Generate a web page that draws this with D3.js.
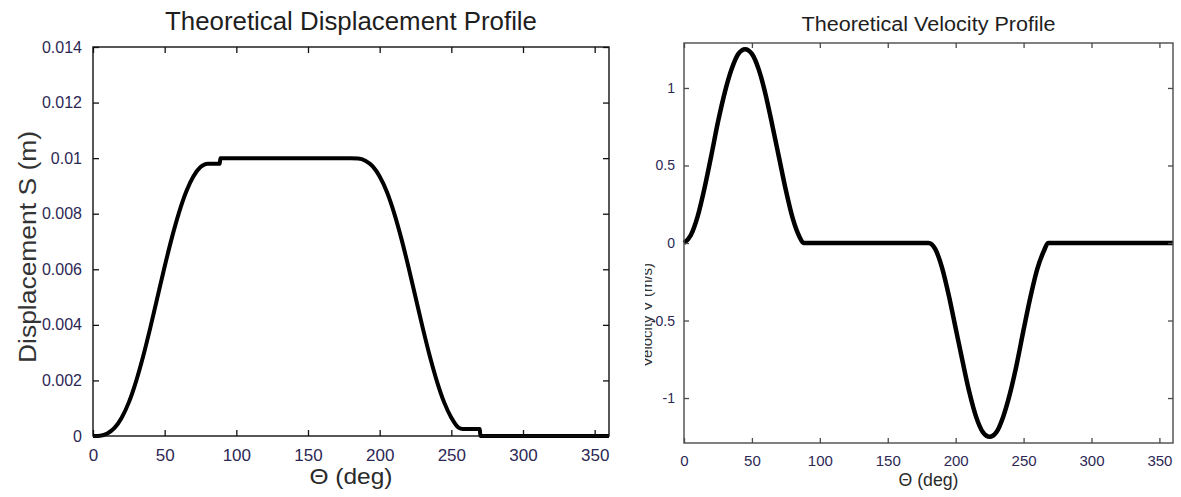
<!DOCTYPE html>
<html>
<head>
<meta charset="utf-8">
<script src="https://cdn.jsdelivr.net/npm/d3@7"></script>
<style>
  html, body { margin: 0; padding: 0; background: #fff; }
  svg { display: block; font-family: "Liberation Sans", Arial, sans-serif; }
</style>
</head>
<body>
<svg id="chart" width="1181" height="497"></svg>
<script>
// ---------- data ----------
const dispTheta = [0, 5, 10, 15, 20, 25, 30, 35, 40, 45, 50, 55, 60, 65, 70, 75, 78, 80, 85, 88.5, 88.8, 90, 100, 120, 140, 160, 180, 185, 190, 195, 200, 205, 210, 215, 220, 225, 230, 235, 240, 245, 250, 255, 258, 262, 266, 269.9, 270.2, 280, 300, 320, 340, 360];
const dispValues = [0, 0.00001, 0.00009, 0.00029, 0.00066, 0.00121, 0.00196, 0.00287, 0.0039, 0.005, 0.0061, 0.00713, 0.00804, 0.00879, 0.00934, 0.00968, 0.00978, 0.0098, 0.0098, 0.0098, 0.0100, 0.0100, 0.0100, 0.0100, 0.0100, 0.0100, 0.0100, 0.00999, 0.00991, 0.00971, 0.00934, 0.00879, 0.00804, 0.00713, 0.0061, 0.005, 0.0039, 0.00287, 0.00196, 0.00121, 0.00066, 0.0003, 0.00025, 0.00025, 0.00025, 0.00025, 0, 0, 0, 0, 0, 0];

const velTheta = [0, 5, 10, 15, 20, 25, 30, 35, 40, 45, 50, 55, 60, 65, 70, 75, 80, 85, 88, 90, 110, 130, 150, 170, 180, 185, 190, 195, 200, 205, 210, 215, 220, 225, 230, 235, 240, 245, 250, 255, 260, 265, 268, 270, 290, 310, 330, 360];
const velValues = [0, 0.05, 0.17, 0.35, 0.56, 0.78, 0.97, 1.12, 1.22, 1.25, 1.22, 1.12, 0.96, 0.76, 0.55, 0.34, 0.16, 0.04, 0, 0, 0, 0, 0, 0, 0, -0.04, -0.16, -0.34, -0.55, -0.76, -0.96, -1.12, -1.22, -1.25, -1.22, -1.12, -0.97, -0.78, -0.56, -0.35, -0.17, -0.05, 0, 0, 0, 0, 0, 0];

const xTicks = [0, 50, 100, 150, 200, 250, 300, 350];
const dispTicks = [0, 0.002, 0.004, 0.006, 0.008, 0.01, 0.012, 0.014];
const dispTickLabels = ["0", "0.002", "0.004", "0.006", "0.008", "0.01", "0.012", "0.014"];
const velTicks = [-1, -0.5, 0, 0.5, 1];
const velTickLabels = ["-1", "-0.5", "0", "0.5", "1"];

const titles = ["Theoretical Displacement Profile", "Theoretical Velocity Profile"];
const xLabel = "\u0398 (deg)";
const yLabels = ["Displacement S (m)", "Velocity V (m/s)"];

// ---------- drawing ----------
const svg = d3.select("#chart");
const tickColor = "#2c2854";

function panel(opts) {
  const x = d3.scaleLinear().domain([0, 360]).range([opts.left, opts.right]);
  const y = d3.scaleLinear().domain(opts.yDomain).range([opts.bottom, opts.top]);
  const g = svg.append("g");

  // data line
  const line = d3.line()
    .x((d, i) => x(opts.xs[i]))
    .y((d) => y(d))
    .curve(d3.curveMonotoneX);
  g.append("path")
    .attr("d", line(opts.ys))
    .attr("fill", "none")
    .attr("stroke", "#000")
    .attr("stroke-width", opts.lineWidth)
    .attr("stroke-linejoin", "round");

  // inward ticks on all sides
  const tl = opts.tickLen;
  const axB = d3.axisBottom(x).tickValues(xTicks).tickSizeInner(-tl).tickSizeOuter(0).tickFormat(d3.format("d")).tickPadding(tl + 7);
  const axT = d3.axisTop(x).tickValues(xTicks).tickSizeInner(-tl).tickSizeOuter(0).tickFormat("");
  const axL = d3.axisLeft(y).tickValues(opts.yTicks).tickSizeInner(-tl).tickSizeOuter(0).tickFormat((d, i) => opts.yTickLabels[i]).tickPadding(tl + opts.yPad);
  const axR = d3.axisRight(y).tickValues(opts.yTicks).tickSizeInner(-tl).tickSizeOuter(0).tickFormat("");

  const gb = g.append("g").attr("transform", `translate(0,${opts.bottom})`).call(axB);
  const gt = g.append("g").attr("transform", `translate(0,${opts.top})`).call(axT);
  const gl = g.append("g").attr("transform", `translate(${opts.left},0)`).call(axL);
  const gr = g.append("g").attr("transform", `translate(${opts.right},0)`).call(axR);
  [gb, gt, gl, gr].forEach(a => {
    a.select(".domain").remove();
    a.selectAll(".tick line").attr("stroke", opts.boxColor).attr("stroke-width", 1.3);
  });
  gb.selectAll(".tick text").attr("font-size", opts.xTickSize).attr("fill", tickColor).attr("font-family", "Liberation Sans, Arial, sans-serif");
  gl.selectAll(".tick text").attr("font-size", opts.yTickSize).attr("fill", tickColor).attr("font-family", "Liberation Sans, Arial, sans-serif");

  // box
  g.append("rect")
    .attr("x", opts.left).attr("y", opts.top)
    .attr("width", opts.right - opts.left).attr("height", opts.bottom - opts.top)
    .attr("fill", "none").attr("stroke", opts.boxColor).attr("stroke-width", opts.boxWidth);

  // title
  g.append("text")
    .attr("x", (opts.left + opts.right) / 2).attr("y", opts.titleY)
    .attr("text-anchor", "middle").attr("font-size", opts.titleSize)
    .attr("textLength", opts.titleLen).attr("lengthAdjust", "spacingAndGlyphs")
    .attr("fill", "#1e1e1e").text(opts.title);

  // x label
  g.append("text")
    .attr("x", (opts.left + opts.right) / 2).attr("y", opts.xLabelY)
    .attr("text-anchor", "middle").attr("font-size", opts.xLabelSize)
    .attr("textLength", opts.xLabelLen).attr("lengthAdjust", "spacingAndGlyphs")
    .attr("fill", "#2a2a2a").text(xLabel);

  return { x, y, g };
}

const p1 = panel({
  left: 93, right: 609, top: 47, bottom: 436,
  yDomain: [0, 0.014], xs: dispTheta, ys: dispValues,
  yTicks: dispTicks, yTickLabels: dispTickLabels,
  lineWidth: 4, tickLen: 6, yPad: 5,
  boxColor: "#111", boxWidth: 1.4,
  xTickSize: 17, yTickSize: 16,
  title: titles[0], titleY: 30, titleSize: 25, titleLen: 372,
  xLabelY: 484, xLabelSize: 22, xLabelLen: 83
});

// left y label
svg.append("text")
  .attr("transform", "translate(36,247) rotate(-90)")
  .attr("text-anchor", "middle").attr("font-size", 23)
  .attr("textLength", 232).attr("lengthAdjust", "spacingAndGlyphs")
  .attr("fill", "#333").text(yLabels[0]);

const p2 = panel({
  left: 684, right: 1173, top: 43, bottom: 443,
  yDomain: [-1.29, 1.29], xs: velTheta, ys: velValues,
  yTicks: velTicks, yTickLabels: velTickLabels,
  lineWidth: 4.5, tickLen: 5, yPad: 4,
  boxColor: "#4a4a4a", boxWidth: 1.4,
  xTickSize: 15, yTickSize: 14,
  title: titles[1], titleY: 31, titleSize: 20, titleLen: 254,
  xLabelY: 486, xLabelSize: 18, xLabelLen: 60
});

// right y label (partially cut off, as in the reference)
svg.append("defs").append("clipPath").attr("id", "ylabclip")
  .attr("clipPathUnits", "userSpaceOnUse")
  .append("rect").attr("x", 645).attr("y", 0).attr("width", 30).attr("height", 497);
svg.append("g")
  .attr("clip-path", "url(#ylabclip)")
  .append("text")
  .attr("transform", "translate(652,315) rotate(-90)")
  .attr("text-anchor", "middle").attr("font-size", 15)
  .attr("fill", "#333").text(yLabels[1]);
</script>
</body>
</html>
